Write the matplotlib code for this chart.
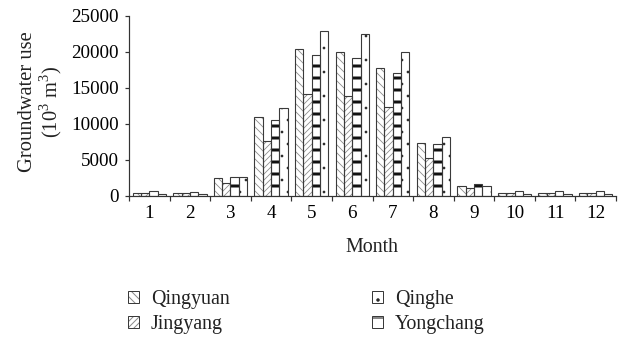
import matplotlib
matplotlib.use("Agg")
import matplotlib.pyplot as plt
import numpy as np
from matplotlib.patches import Patch
from matplotlib.legend_handler import HandlerTuple

months = ["1", "2", "3", "4", "5", "6", "7", "8", "9", "10", "11", "12"]
qingyuan = [350, 350, 2500, 10950, 20450, 20050, 17800, 7400, 1400, 350, 350, 350]
jingyang = [380, 380, 1850, 7700, 14200, 13950, 12400, 5250, 1100, 380, 380, 380]
yongchang = [650, 620, 2600, 10550, 19550, 19100, 17050, 7200, 1600, 650, 650, 650]
qinghe = [250, 250, 2650, 12200, 22950, 22450, 19950, 8250, 1400, 250, 250, 250]

series = [
    ("Qingyuan", qingyuan, "\\\\\\", "#8a8a8a", 0.8),
    ("Jingyang", jingyang, "////", "#8a8a8a", 0.8),
    ("Yongchang", yongchang, "-", "#111111", 3.0),
    ("Qinghe", qinghe, ".", "#222222", 0.2),
]

plt.rcParams["font.family"] = ["Liberation Serif", "DejaVu Serif"]
plt.rcParams["mathtext.fontset"] = "custom"
plt.rcParams["mathtext.rm"] = "Liberation Serif"

DPI = 72
fig = plt.figure(figsize=(621 / DPI, 339 / DPI), dpi=DPI)
ax = fig.add_axes([129 / 621, 143 / 339, 487 / 621, 180 / 339])

x = np.arange(1, len(months) + 1)
w = 0.205
edge = "#3a3a3a"
handles = {}
for i, (name, vals, hatch, hcol, hlw) in enumerate(series):
    pos = x + (i - 1.5) * w
    # white bars with the hatch pattern in its own colour
    bars = ax.bar(pos, vals, width=w, color="white", edgecolor=hcol,
                  hatch=hatch, linewidth=0, zorder=2)
    for b in bars:
        if hasattr(b, "set_hatch_linewidth"):
            b.set_hatch_linewidth(hlw)
    # outline on top
    ax.bar(pos, vals, width=w, facecolor="none", edgecolor=edge,
           linewidth=1.1, zorder=3)
    hp = Patch(facecolor="white", edgecolor=hcol, hatch=hatch, linewidth=0)
    if hasattr(hp, "set_hatch_linewidth"):
        hp.set_hatch_linewidth(min(hlw, 1.5))
    ho = Patch(facecolor="none", edgecolor=edge, linewidth=1.0)
    handles[name] = (hp, ho)

ax.set_xlim(0.5, 12.5)
ax.set_ylim(0, 25000)
ax.set_yticks([0, 5000, 10000, 15000, 20000, 25000])
ax.set_xticks(x)
ax.set_xticklabels(months)
ax.set_xticks(np.arange(0.5, 13, 1), minor=True)
ax.tick_params(axis="x", which="major", length=0, pad=9, labelsize=19)
ax.tick_params(axis="x", which="minor", length=5, width=1.2, direction="out",
               color="#333333")
ax.tick_params(axis="y", length=4, width=1.2, direction="out", pad=6,
               labelsize=19, color="#333333")
for s in ("top", "right"):
    ax.spines[s].set_visible(False)
for s in ("left", "bottom"):
    ax.spines[s].set_color("#333333")
    ax.spines[s].set_linewidth(1.2)

fig.text(372 / 621, 1 - 248 / 339, "Month", ha="center", va="center",
         fontsize=20, color="#222222")
fig.text(41 / 621, 1 - 102 / 339, "Groundwater use\n(10$^3$ m$^3$)",
         rotation=90, ha="center", va="center", fontsize=20.5,
         multialignment="center", color="#222222", linespacing=1.0)

legend_kw = dict(frameon=False, fontsize=20, handlelength=0.55,
                 handleheight=0.55, handletextpad=0.6, labelspacing=0.3,
                 borderpad=0, borderaxespad=0,
                 handler_map={tuple: HandlerTuple(ndivide=1)})
leg1 = fig.legend([handles["Qingyuan"], handles["Jingyang"]],
                  ["Qingyuan", "Jingyang"], loc="upper left",
                  bbox_to_anchor=(128 / 621, 1 - 290 / 339), **legend_kw)
leg2 = fig.legend([handles["Qinghe"], handles["Yongchang"]],
                  ["Qinghe", "Yongchang"], loc="upper left",
                  bbox_to_anchor=(372 / 621, 1 - 290 / 339), **legend_kw)
for leg in (leg1, leg2):
    for t in leg.get_texts():
        t.set_color("#222222")

fig.savefig("out.png", dpi=DPI)
